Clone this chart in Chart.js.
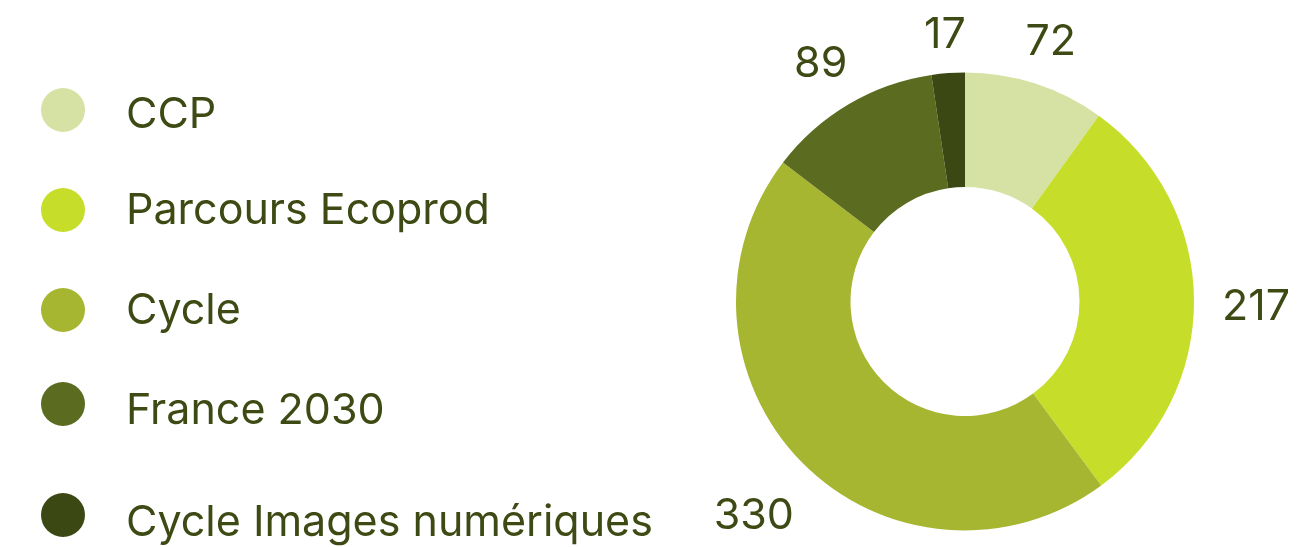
<!DOCTYPE html>
<html>
<head>
<meta charset="utf-8">
<script src="https://cdn.jsdelivr.net/npm/chart.js@4"></script>
<style>
  html, body { margin: 0; padding: 0; background: #fff; }
  #wrap { position: relative; width: 1315px; height: 547px; }
  #c { position: absolute; left: 0; top: 0; }
  #legend { position: absolute; left: 0; top: 0; width: 700px; height: 547px; font-family: Inter, sans-serif; }
  .dot { position: absolute; left: 41px; width: 44px; height: 44px; border-radius: 50%; }
  .txt { position: absolute; left: 126px; height: 44px; line-height: 44px; font-size: 43px; color: #3d4a14; white-space: nowrap; }
</style>
</head>
<body>
<div id="wrap">
  <canvas id="c" width="1315" height="547"></canvas>
  <div id="legend"></div>
</div>
<script>
const categories = ["CCP", "Parcours Ecoprod", "Cycle", "France 2030", "Cycle Images numériques"];
const values = [72, 217, 330, 89, 17];
const colors = ["#d6e2a4", "#c6dd2a", "#a6b630", "#5b6b1f", "#3c4813"];
const dotCenters = [110, 209.5, 310, 404, 515];
const textCenters = [112, 208, 307.5, 407.5, 519.5];
const textColor = "#3d4a14";

// HTML legend
const leg = document.getElementById('legend');
categories.forEach((c, i) => {
  const d = document.createElement('div');
  d.className = 'dot';
  d.style.top = (dotCenters[i] - 22) + 'px';
  d.style.background = colors[i];
  leg.appendChild(d);
  const t = document.createElement('div');
  t.className = 'txt';
  t.style.top = (textCenters[i] - 22) + 'px';
  t.textContent = c;
  leg.appendChild(t);
});

const outsideLabels = {
  id: 'outsideLabels',
  afterDatasetsDraw(chart) {
    const ctx = chart.ctx;
    const meta = chart.getDatasetMeta(0);
    ctx.save();
    ctx.font = '43px Inter, sans-serif';
    ctx.fillStyle = textColor;
    ctx.textAlign = 'center';
    ctx.textBaseline = 'middle';
    meta.data.forEach((arc, i) => {
      const p = arc.getProps(['x', 'y', 'startAngle', 'endAngle', 'outerRadius'], true);
      const a = (p.startAngle + p.endAngle) / 2;
      const txt = String(values[i]);
      const w = ctx.measureText(txt).width;
      const h = 31;
      const cx = Math.cos(a), sy = Math.sin(a);
      const r = p.outerRadius + 28 + Math.abs(cx) * w / 2 + Math.abs(sy) * h / 2;
      ctx.fillText(txt, p.x + cx * r, p.y + sy * r + 7);
    });
    ctx.restore();
  }
};

new Chart(document.getElementById('c'), {
  type: 'doughnut',
  data: {
    labels: categories,
    datasets: [{
      data: values,
      backgroundColor: colors,
      borderWidth: 0,
      hoverOffset: 0
    }]
  },
  options: {
    responsive: false,
    animation: false,
    cutout: '50%',
    layout: { padding: { left: 736, right: 121, top: 72, bottom: 16 } },
    plugins: { legend: { display: false }, tooltip: { enabled: false } }
  },
  plugins: [outsideLabels]
});
</script>
</body>
</html>
